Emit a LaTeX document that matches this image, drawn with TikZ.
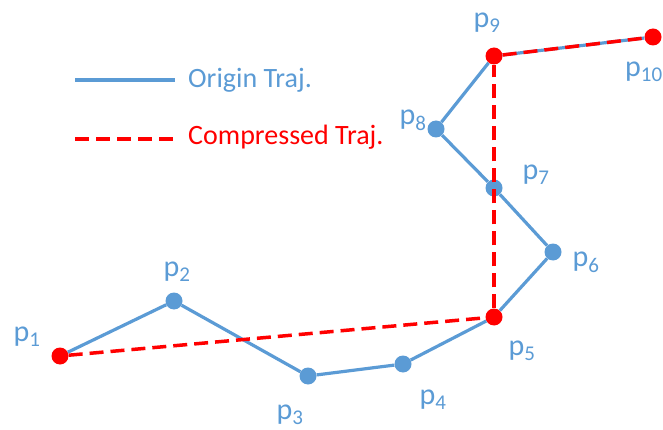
\documentclass[tikz,border=0pt]{standalone}
\usepackage{fontspec}
\setmainfont{Carlito}
\usetikzlibrary{positioning}
\definecolor{trajblue}{RGB}{91,155,213}
\tikzset{
  pt/.style={circle,fill=trajblue,inner sep=0pt,minimum size=17pt},
  keypt/.style={pt,fill=red},
  orig/.style={trajblue,line width=3.2pt},
  comp/.style={red,line width=3.5pt,dash pattern=on 14pt off 7pt},
  lbl/.style={text=trajblue,font=\fontsize{30}{30}\selectfont,inner sep=0pt},
  keytext/.style={anchor=west,inner sep=0pt,font=\fontsize{28}{28}\selectfont}
}
\begin{document}
\begin{tikzpicture}[x=1pt,y=-1pt]
  \useasboundingbox (0,0) rectangle (663,430);
  % trajectory points
  \path
    (60,356)  node[keypt] (p1) {}
    (174,301) node[pt] (p2) {}
    (308,376) node[pt] (p3) {}
    (403,364) node[pt] (p4) {}
    (494,317) node[keypt] (p5) {}
    (553,252) node[pt] (p6) {}
    (494,188) node[pt] (p7) {}
    (436,129) node[pt] (p8) {}
    (494,56)  node[keypt] (p9) {}
    (653,37)  node[keypt] (p10) {};

  % origin trajectory
  \draw[orig] (p1) -- (p2);
  \draw[orig] (p2) -- (p3);
  \draw[orig] (p3) -- (p4);
  \draw[orig] (p4) -- (p5);
  \draw[orig] (p5) -- (p6);
  \draw[orig] (p6) -- (p7);
  \draw[orig] (p7) -- (p8);
  \draw[orig] (p8) -- (p9);
  \draw[orig] (p9) -- (p10);

  % compressed trajectory
  \draw[comp] (p1) -- (p5);
  \draw[comp] (p5) -- (p9);
  \draw[comp] (p9) -- (p10);

  % labels
  \node[lbl] (l1) at (27,337) {p\textsubscript{1}};
  \node[lbl] (l2) at (177,272) {p\textsubscript{2}};
  \node[lbl] (l3) at (290,415) {p\textsubscript{3}};
  \node[lbl] (l4) at (433,400) {p\textsubscript{4}};
  \node[lbl] (l5) at (522,351) {p\textsubscript{5}};
  \node[lbl] (l6) at (586,262) {p\textsubscript{6}};
  \node[lbl] (l7) at (536,175) {p\textsubscript{7}};
  \node[lbl] (l8) at (413,120) {p\textsubscript{8}};
  \node[lbl] (l9) at (487,23) {p\textsubscript{9}};
  \node[lbl] (l10) at (644,72) {p\textsubscript{10}};

  % legend
  \coordinate (oa) at (75,80);
  \coordinate (ob) at (175,80);
  \coordinate (ca) at (75,139);
  \coordinate (cb) at (175,139);
  \draw[orig] (oa) -- (ob);
  \draw[comp] (ca) -- (cb);
  \node[keytext,text=trajblue] (otext) at (188,80) {Origin Traj.};
  \node[keytext,text=red] (ctext) at (188,137) {Compressed Traj.};
\end{tikzpicture}
\end{document}
